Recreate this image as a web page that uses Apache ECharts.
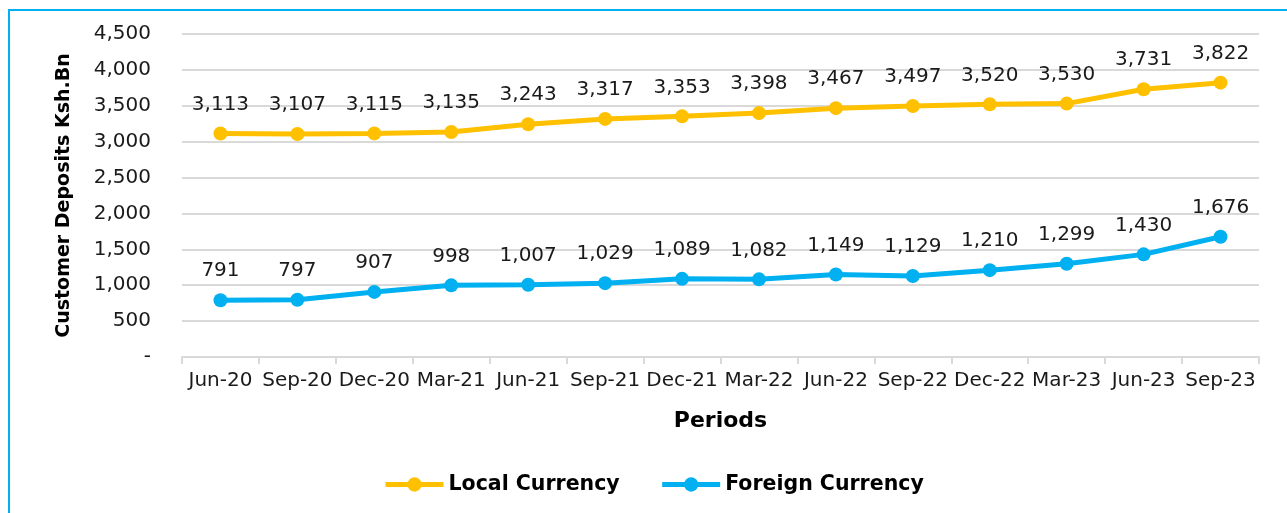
<!DOCTYPE html>
<html>
<head>
<meta charset="utf-8">
<script src="https://cdn.jsdelivr.net/npm/echarts@6/dist/echarts.min.js"></script>
<style>
html,body{margin:0;padding:0;background:#fff;overflow:hidden;}
#frame{position:absolute;left:8px;top:9px;width:1290px;height:520px;border:2px solid #00B0F0;box-sizing:border-box;}
#chart{position:absolute;left:0;top:0;width:1287px;height:513px;}
</style>
</head>
<body>
<div id="frame"></div>
<div id="chart"></div>
<script>
const categories = ['Jun-20','Sep-20','Dec-20','Mar-21','Jun-21','Sep-21','Dec-21','Mar-22','Jun-22','Sep-22','Dec-22','Mar-23','Jun-23','Sep-23'];
const localCurrency = [3113,3107,3115,3135,3243,3317,3353,3398,3467,3497,3520,3530,3731,3822];
const foreignCurrency = [791,797,907,998,1007,1029,1089,1082,1149,1129,1210,1299,1430,1676];
const seriesNames = ['Local Currency','Foreign Currency'];

const fmt = v => Number(v).toLocaleString('en-US');
const FONT = 'DejaVu Sans';
const BOLD = 'DejaVu Sans';

const chart = echarts.init(document.getElementById('chart'), null, {renderer:'canvas'});
function mkSeries(name, data, color){
  return {
    name, type:'line', data,
    symbol:'circle', symbolSize:14,
    itemStyle:{color},
    lineStyle:{color, width:5},
    label:{show:true, position:'top', distance:12, formatter:p=>fmt(p.value),
      color:'#1a1a1a', fontFamily:FONT, fontSize:20},
    emphasis:{disabled:true},
    animation:false
  };
}
chart.setOption({
  animation:false,
  textStyle:{fontFamily:FONT},
  grid:{left:182, right:28, top:34, bottom:156},
  xAxis:{
    type:'category', data:categories, boundaryGap:true,
    name:'Periods', nameLocation:'middle', nameGap:53,
    nameTextStyle:{fontFamily:BOLD, fontSize:22, fontWeight:'bold', color:'#000'},
    axisLine:{lineStyle:{color:'#d9d9d9', width:2}},
    axisTick:{show:true, alignWithLabel:false, length:7, lineStyle:{color:'#d9d9d9', width:2}},
    axisLabel:{fontFamily:FONT, fontSize:20, color:'#1a1a1a', margin:14, interval:0}
  },
  yAxis:{
    type:'value', min:0, max:4500, interval:500,
    name:'Customer Deposits Ksh.Bn', nameLocation:'middle', nameGap:108, nameRotate:90,
    nameTextStyle:{fontFamily:BOLD, fontSize:19, fontWeight:'bold', color:'#000'},
    axisLine:{show:false}, axisTick:{show:false},
    splitLine:{lineStyle:{color:'#d9d9d9', width:2}},
    axisLabel:{fontFamily:FONT, fontSize:20, color:'#1a1a1a', margin:31,
      formatter:v=> v===0 ? '-' : fmt(v)}
  },
  legend:{
    data:seriesNames, bottom:13, left:378, itemWidth:58, itemHeight:18, itemGap:40,
    lineStyle:{width:5},
    textStyle:{fontFamily:BOLD, fontSize:20.5, fontWeight:'bold', color:'#000'}
  },
  series:[
    mkSeries(seriesNames[0], localCurrency, '#FFC000'),
    mkSeries(seriesNames[1], foreignCurrency, '#00B0F0')
  ]
});
</script>
</body>
</html>
